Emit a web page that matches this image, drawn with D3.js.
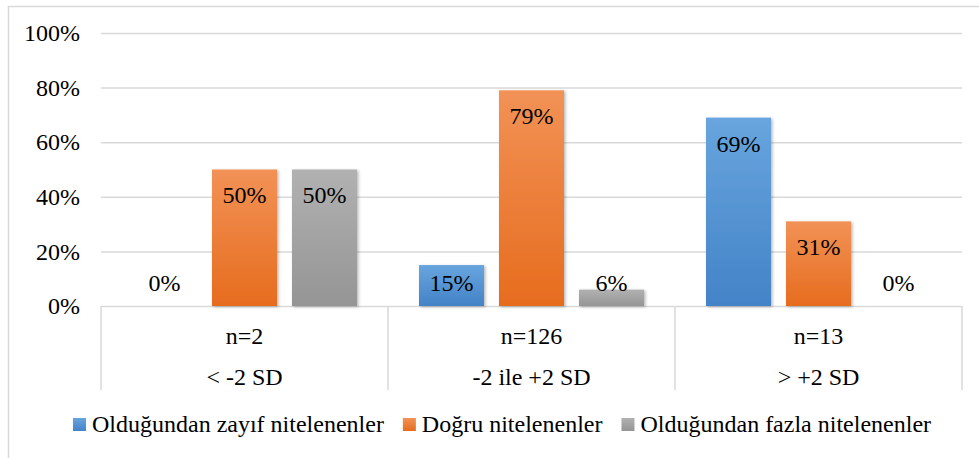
<!DOCTYPE html>
<html>
<head>
<meta charset="utf-8">
<script src="https://cdn.jsdelivr.net/npm/d3@7"></script>
<style>
  html, body { margin: 0; padding: 0; background: #fff; }
</style>
</head>
<body>
<svg id="chart" width="979" height="458"></svg>
<script>
// ---- data ----
const categories = ["< -2 SD", "-2 ile +2 SD", "> +2 SD"];
const groupN = ["n=2", "n=126", "n=13"];
const seriesNames = ["Olduğundan zayıf nitelenenler", "Doğru nitelenenler", "Olduğundan fazla nitelenenler"];
const zayif = [0, 15, 69];
const dogru = [50, 79, 31];
const fazla = [50, 6, 0];
const yTicks = [0, 20, 40, 60, 80, 100];

const seriesValues = [zayif, dogru, fazla];
const seriesColors = [
  { top: "#68a5de", bottom: "#4383c7" },
  { top: "#f29256", bottom: "#e66c1e" },
  { top: "#b1b1b1", bottom: "#959595" }
];

const FONT = "'Liberation Serif', 'Times New Roman', serif";
const FS = "24px";
const svg = d3.select("#chart");
const plot = { left: 101, right: 962, top: 33, bottom: 306 };

function styleText(sel) {
  return sel.style("font-family", FONT).style("font-size", FS).attr("fill", "#000");
}

// defs: gradients and shadow
const defs = svg.append("defs");
seriesColors.forEach((c, i) => {
  const g = defs.append("linearGradient").attr("id", "grad" + i)
    .attr("x1", 0).attr("y1", 0).attr("x2", 0).attr("y2", 1);
  g.append("stop").attr("offset", "0%").attr("stop-color", c.top);
  g.append("stop").attr("offset", "100%").attr("stop-color", c.bottom);
});
const f = defs.append("filter").attr("id", "shadow")
  .attr("x", "-20%").attr("y", "-20%").attr("width", "140%").attr("height", "140%");
f.append("feDropShadow").attr("dx", 1.5).attr("dy", 1).attr("stdDeviation", 1.6)
  .attr("flood-color", "#000").attr("flood-opacity", 0.28);

// chart border (frame extends beyond the visible area on right/bottom)
svg.append("rect").attr("x", 8.5).attr("y", 6.5).attr("width", 1000).attr("height", 500)
  .attr("fill", "none").attr("stroke", "#d9d9d9").attr("stroke-width", 1.5);

// scales
const y = d3.scaleLinear().domain([0, 100]).range([plot.bottom, plot.top]);
const x0 = d3.scaleBand().domain(categories).range([plot.left, plot.right]).paddingInner(0).paddingOuter(0);
const x1 = d3.scaleBand().domain(d3.range(seriesNames.length)).range([0, x0.bandwidth()])
  .paddingInner(0.1875).paddingOuter(0.3875);

// gridlines + y labels
const yAxis = d3.axisLeft(y).tickValues(yTicks).tickSize(-(plot.right - plot.left))
  .tickFormat(d => d + "%").tickPadding(21);
const gy = svg.append("g").attr("transform", `translate(${plot.left},0)`).call(yAxis);
gy.select(".domain").remove();
gy.selectAll(".tick line").attr("stroke", "#d9d9d9").attr("stroke-width", 1.5);
styleText(gy.selectAll(".tick text"));

// category table lines
const sepX = categories.map(c => x0(c)).concat([x0(categories[categories.length - 1]) + x0.bandwidth()]);
svg.append("g").selectAll("line").data(sepX).join("line")
  .attr("x1", d => d).attr("x2", d => d)
  .attr("y1", plot.bottom).attr("y2", 390)
  .attr("stroke", "#d9d9d9").attr("stroke-width", 1.5);

// bars
const groups = svg.append("g").selectAll("g").data(categories).join("g")
  .attr("transform", c => `translate(${x0(c)},0)`);

groups.each(function(c, ci) {
  const g = d3.select(this);
  seriesValues.forEach((vals, si) => {
    const v = vals[ci];
    if (v > 0) {
      g.append("rect")
        .attr("x", x1(si)).attr("width", x1.bandwidth())
        .attr("y", y(v)).attr("height", y(0) - y(v))
        .attr("fill", `url(#grad${si})`)
        .attr("filter", "url(#shadow)");
    }
  });
  seriesValues.forEach((vals, si) => {
    const v = vals[ci];
    const cy = Math.min(y(v) + 26, y(0) - 23);
    styleText(g.append("text"))
      .attr("x", x1(si) + x1.bandwidth() / 2)
      .attr("y", cy).attr("dy", "0.33em")
      .attr("text-anchor", "middle")
      .text(v + "%");
  });
  styleText(g.append("text")).attr("x", x0.bandwidth() / 2).attr("y", 336).attr("dy", "0.33em")
    .attr("text-anchor", "middle").text(groupN[ci]);
  styleText(g.append("text")).attr("x", x0.bandwidth() / 2).attr("y", 377).attr("dy", "0.33em")
    .attr("text-anchor", "middle").text(c);
});

// legend
const legend = svg.append("g");
const items = legend.selectAll("g").data(seriesNames).join("g");
items.append("rect").attr("width", 13).attr("height", 13).attr("y", -6)
  .attr("fill", (d, i) => `url(#grad${i})`);
styleText(items.append("text")).attr("x", 19).attr("dy", "0.33em").text(d => d);
let xpos = 0;
const widths = [];
items.each(function() {
  widths.push(d3.select(this).select("text").node().getComputedTextLength() + 19);
});
const gap = 19;
const total = d3.sum(widths) + gap * (widths.length - 1);
const startX = 502 - total / 2;
items.attr("transform", (d, i) => {
  const t = `translate(${startX + xpos},424)`;
  xpos += widths[i] + gap;
  return t;
});
</script>
</body>
</html>
